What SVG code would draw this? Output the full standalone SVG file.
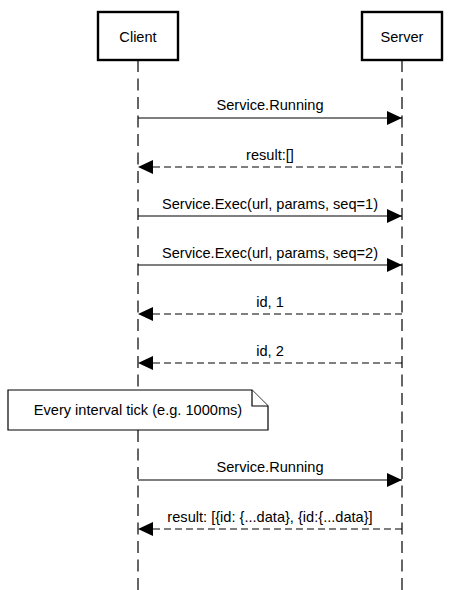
<svg xmlns="http://www.w3.org/2000/svg" width="451" height="590" viewBox="0 0 451 590">
<defs>
<style>
.box{fill:#fff;stroke:#000;stroke-width:2.4}
.life{fill:none;stroke:#000;stroke-width:1.2;stroke-dasharray:12 6.5}
.msg{fill:none;stroke:#000;stroke-width:1.2}
.ret{fill:none;stroke:#000;stroke-width:1.2;stroke-dasharray:7 4}
.note{fill:#fff;stroke:#000;stroke-width:1.2}
text{font-family:"Liberation Sans",Arial,Helvetica,sans-serif;font-size:14.6px;fill:#000;text-anchor:middle}
</style>
<marker id="ah" markerUnits="userSpaceOnUse" markerWidth="16" markerHeight="14" refX="15" refY="7" orient="auto">
<path d="M0,0 L15,7 L0,14 Z" fill="#000"/>
</marker>
</defs>
<g id="connectors">
<line class="life" x1="138" y1="60" x2="138" y2="590"/>
<line class="life" x1="402" y1="60" x2="402" y2="590"/>
<line class="msg" x1="138" y1="118" x2="402" y2="118" marker-end="url(#ah)"/>
<line class="ret" x1="402" y1="167" x2="138" y2="167" marker-end="url(#ah)"/>
<line class="msg" x1="138" y1="216" x2="402" y2="216" marker-end="url(#ah)"/>
<line class="msg" x1="138" y1="265" x2="402" y2="265" marker-end="url(#ah)"/>
<line class="ret" x1="402" y1="314" x2="138" y2="314" marker-end="url(#ah)"/>
<line class="ret" x1="402" y1="363" x2="138" y2="363" marker-end="url(#ah)"/>
<line class="msg" x1="138" y1="480" x2="402" y2="480" marker-end="url(#ah)"/>
<line class="ret" x1="402" y1="529" x2="138" y2="529" marker-end="url(#ah)"/>
<text x="270" y="110">Service.Running</text>
<text x="270" y="160">result:[]</text>
<text x="270" y="209">Service.Exec(url, params, seq=1)</text>
<text x="270" y="258">Service.Exec(url, params, seq=2)</text>
<text x="270" y="307">id, 1</text>
<text x="270" y="356">id, 2</text>
<text x="270" y="472">Service.Running</text>
<text x="270" y="522">result: [{id: {...data}, {id:{...data}]</text>
</g>
<g id="client">
<rect class="box" x="98" y="12" width="80" height="48"/>
<text x="138" y="41.5">Client</text>
</g>
<g id="server">
<rect class="box" x="362" y="12" width="80" height="48"/>
<text x="402" y="41.5">Server</text>
</g>
<g id="note">
<path class="note" d="M8,390 H252 L268,406 V430 H8 Z"/>
<path class="note" d="M252,390 V406 H268" fill="none"/>
<text x="138" y="415">Every interval tick (e.g. 1000ms)</text>
</g>
</svg>
